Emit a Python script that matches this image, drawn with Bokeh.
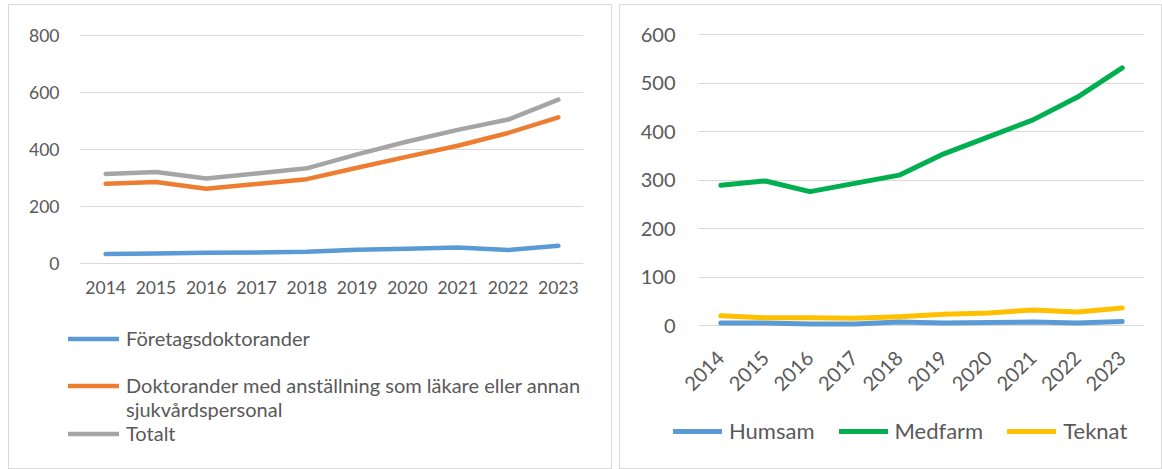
import math
from bokeh.plotting import figure
from bokeh.models import Legend, LegendItem, Range1d, FixedTicker
from bokeh.layouts import row
from bokeh.embed import file_html
from bokeh.resources import INLINE

years = ["2014", "2015", "2016", "2017", "2018", "2019", "2020", "2021", "2022", "2023"]

# Left panel
foretag = [33, 35, 38, 39, 41, 48, 52, 56, 47, 62]
lakare = [280, 286, 262, 279, 296, 336, 375, 413, 458, 513]
totalt = [314, 321, 298, 316, 334, 383, 428, 469, 505, 575]

# Right panel
humsam = [5, 5, 3, 3, 7, 5, 6, 7, 5, 8]
medfarm = [289, 298, 276, 293, 310, 354, 389, 424, 471, 531]
teknat = [20, 16, 16, 15, 18, 23, 26, 32, 28, 36]

xs = list(range(len(years)))
FONT = "Lato"
TXT = "#595959"
GRID = "#D9D9D9"


def make_fig(width, height, plot_left, border_right, plot_top, ymax, yplot_px, yticks, fs,
             standoff_y, standoff_x):
    n = len(years)
    frame_w = width - border_right
    px_per_cat = (frame_w - plot_left) / n
    x_start = -0.5 - plot_left / px_per_cat
    top_b, bot_b = 2, 2
    px_per_unit = yplot_px / ymax
    frame_h = height - top_b - bot_b
    y_end = ymax + (plot_top - top_b) / px_per_unit
    y_start = y_end - frame_h / px_per_unit
    p = figure(width=width, height=height, x_range=Range1d(x_start, n - 0.5),
               y_range=Range1d(y_start, y_end), output_backend="svg", toolbar_location=None,
               min_border_left=0, min_border_right=border_right, min_border_top=top_b,
               min_border_bottom=bot_b)
    p.xgrid.grid_line_color = None
    p.ygrid.grid_line_color = GRID
    p.ygrid.grid_line_width = 1
    p.ygrid.ticker = FixedTicker(ticks=yticks)
    try:
        p.ygrid.cross_bounds = (-0.5, n - 0.5)
    except AttributeError:
        p.ygrid.grid_line_color = None
        p.segment(x0=-0.5, x1=n - 0.5, y0=yticks, y1=yticks, line_color=GRID, line_width=1)
    p.outline_line_color = None
    for ax in (p.xaxis[0], p.yaxis[0]):
        ax.axis_line_color = None
        ax.major_tick_line_color = None
        ax.minor_tick_line_color = None
        ax.major_tick_out = 0
        ax.major_tick_in = 0
        ax.major_label_text_font = FONT
        ax.major_label_text_font_size = fs
        ax.major_label_text_color = TXT
    p.yaxis[0].ticker = FixedTicker(ticks=yticks)
    p.xaxis[0].ticker = FixedTicker(ticks=xs)
    p.xaxis[0].major_label_overrides = {i: y for i, y in zip(xs, years)}
    p.yaxis[0].major_label_standoff = standoff_y
    p.xaxis[0].major_label_standoff = standoff_x
    p.xaxis[0].fixed_location = 0
    p.yaxis[0].fixed_location = -0.5
    p.styles = {"border": "1px solid #d9d9d9", "box-sizing": "border-box"}
    return p


def mk_legend(items, loc, fs, orientation="vertical", spacing=0, gw=51, lh=20):
    return Legend(items=items, location=loc, orientation=orientation, spacing=spacing,
                  glyph_width=gw, glyph_height=lh, label_height=lh, label_standoff=7,
                  label_text_font=FONT, label_text_font_size=fs, label_text_color=TXT,
                  label_text_baseline="middle",
                  padding=0, margin=0, border_line_color=None, background_fill_alpha=0)


# ---------- left figure ----------
p1 = make_fig(604, 465, 71, 30, 30, 800, 228, [0, 200, 400, 600, 800], "17.5px", 21, 17)
r_f = p1.line(xs, foretag, line_color="#5B9BD5", line_width=4.5, line_cap="round", line_join="round")
r_l = p1.line(xs, lakare, line_color="#ED7D31", line_width=4.5, line_cap="round", line_join="round")
r_t = p1.line(xs, totalt, line_color="#A5A5A5", line_width=4.5, line_cap="round", line_join="round")
r_blank = p1.line(xs, lakare, line_alpha=0)

left_items = [
    LegendItem(label="Företagsdoktorander", renderers=[r_f]),
    LegendItem(label=" ", renderers=[r_blank]),
    LegendItem(label="Doktorander med anställning som läkare eller annan", renderers=[r_l]),
    LegendItem(label="sjukvårdspersonal", renderers=[r_blank]),
    LegendItem(label="Totalt", renderers=[r_t]),
]
p1.add_layout(mk_legend(left_items, (59, 23), "20px", lh=23))

# ---------- right figure ----------
p2 = make_fig(543, 465, 78, 19, 29, 600, 291, [0, 100, 200, 300, 400, 500, 600], "20px", 23, 29)
p2.xaxis[0].major_label_orientation = math.pi / 4

r_h = p2.line(xs, humsam, line_color="#5B9BD5", line_width=5, line_cap="round", line_join="round")
r_m = p2.line(xs, medfarm, line_color="#00B050", line_width=5, line_cap="round", line_join="round")
r_k = p2.line(xs, teknat, line_color="#FFC000", line_width=5, line_cap="round", line_join="round")

p2.add_layout(mk_legend([LegendItem(label="Humsam", renderers=[r_h]),
                         LegendItem(label="Medfarm", renderers=[r_m]),
                         LegendItem(label="Teknat", renderers=[r_k])],
                        (53, 24), "22px", orientation="horizontal", spacing=24, gw=49))

layout = row(p1, p2, spacing=7)
layout.margin = (4, 0, 0, 8)
open("out.html", "w").write(file_html(layout, INLINE))
